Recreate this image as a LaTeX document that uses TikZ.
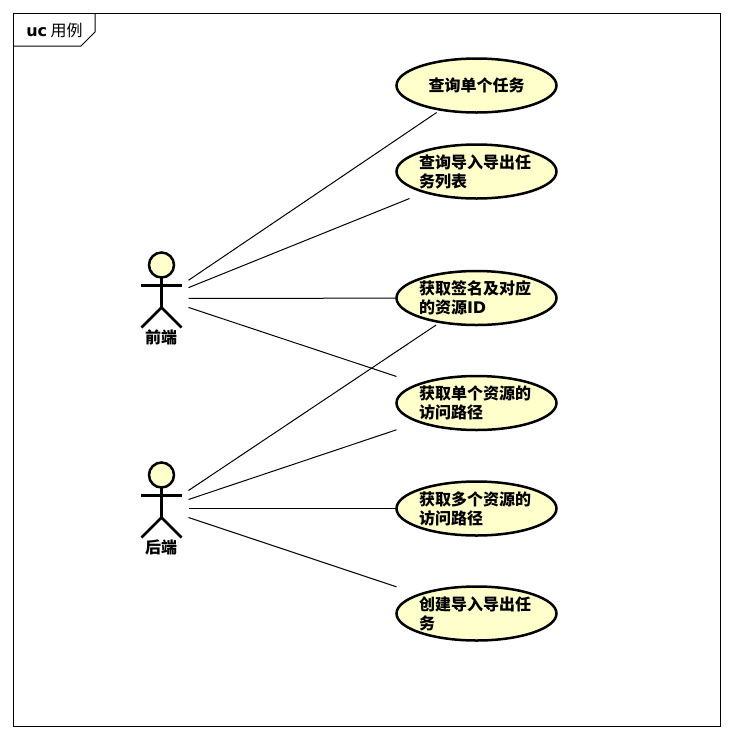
\documentclass[tikz,border=0pt]{standalone}
\usepackage{fontspec}
\setmainfont{Noto Sans CJK SC}
\newfontfamily\latinfont{DejaVu Sans}
\usetikzlibrary{positioning}

\tikzset{
    ucbox/.style={rectangle, minimum width=163pt, minimum height=57pt, inner sep=0pt, outer sep=-1.5pt,
        text width=115pt, font=\fontsize{16pt}{19pt}\selectfont\bfseries, align=left,
        path picture={\draw[line width=2.5pt, fill=ucyellow] (path picture bounding box.center) ellipse (80pt and 27pt);}},
    actorbox/.style={rectangle, minimum width=54pt, minimum height=94pt, inner sep=0pt, outer sep=0pt,
        path picture={
            \coordinate (c) at (path picture bounding box.center);
            \draw[line width=2.5pt, fill=ucyellow] ([yshift=33.5pt]c) circle (12.5pt);
            \draw[line width=2.5pt] ([yshift=21pt]c) -- ([yshift=-9pt]c);
            \draw[line width=2.5pt] ([xshift=-20.5pt,yshift=13pt]c) -- ([xshift=20.5pt,yshift=13pt]c);
            \draw[line width=2.5pt] ([xshift=-20pt,yshift=-29pt]c) -- ([yshift=-9pt]c) -- ([xshift=20pt,yshift=-29pt]c);
        }},
    actorname/.style={inner sep=0pt, font=\fontsize{16pt}{19pt}\selectfont\bfseries},
    assoc/.style={line width=1pt}
}
\definecolor{ucyellow}{RGB}{255,255,204}

\begin{document}
\begin{tikzpicture}[x=1pt, y=-1pt]
    \useasboundingbox (0, 0) rectangle (733, 740);
    \fill[white] (0, 0) rectangle (733, 740);

    % frame and its tab
    \draw[line width=1pt] (13.5, 13.5) rectangle (720.5, 726.5);
    \draw[line width=1pt] (13.5, 46) -- (81, 46) -- (95, 32) -- (95, 13.5);
    \node (title) at (54.5, 30) [inner sep=0pt, font=\fontsize{16pt}{19pt}\selectfont] {{\latinfont\bfseries uc} 用例};

    % use cases
    \node (taskOne) at (476.5, 85.5) [ucbox, align=center] {查询单个任务};
    \node (taskList) at (476.5, 171.5) [ucbox] {查询导入导出任\\务列表};
    \node (signId) at (476.5, 298) [ucbox] {获取签名及对应\\的资源{\latinfont ID}};
    \node (pathOne) at (476.5, 403) [ucbox] {获取单个资源的\\访问路径};
    \node (pathMany) at (476.5, 508.5) [ucbox] {获取多个资源的\\访问路径};
    \node (taskNew) at (476.5, 613.5) [ucbox] {创建导入导出任\\务};

    % actors
    \node (front) at (161.5, 298.5) [actorbox] {};
    \node (frontName) at (161, 337) [actorname] {前端};
    \node (back) at (161.5, 508.5) [actorbox] {};
    \node (backName) at (161, 547) [actorname] {后端};

    \draw[assoc] (front) -- (taskOne);
    \draw[assoc] (front) -- (taskList);
    \draw[assoc] (front) -- (signId);
    \draw[assoc] (front) -- (pathOne);

    \draw[assoc] (back) -- (signId);
    \draw[assoc] (back) -- (pathOne);
    \draw[assoc] (back) -- (pathMany);
    \draw[assoc] (back) -- (taskNew);
\end{tikzpicture}
\end{document}
